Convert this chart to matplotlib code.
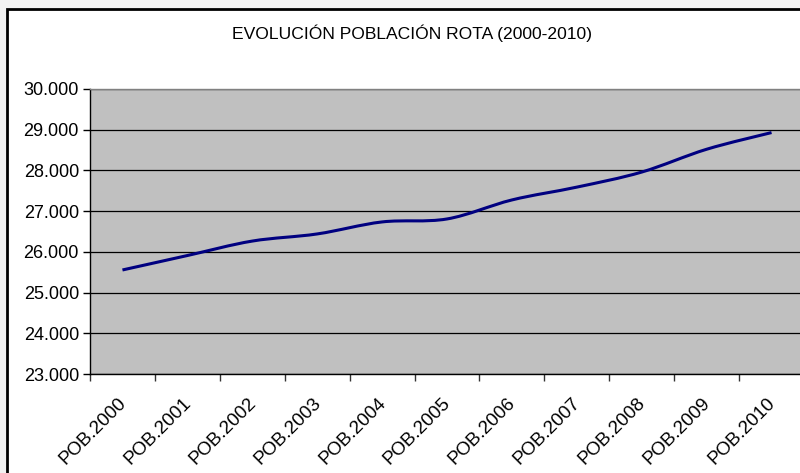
import numpy as np
import matplotlib
matplotlib.use("Agg")
import matplotlib.pyplot as plt
import matplotlib.transforms as mtransforms
from matplotlib.path import Path
from matplotlib.patches import PathPatch, Rectangle
from matplotlib.ticker import FixedLocator, FuncFormatter

# datos
categorias = ["POB.2000", "POB.2001", "POB.2002", "POB.2003", "POB.2004", "POB.2005",
              "POB.2006", "POB.2007", "POB.2008", "POB.2009", "POB.2010"]
poblacion = [25555, 25910, 26265, 26440, 26735, 26808, 27275, 27590, 27960, 28520, 28930]
titulo = "EVOLUCIÓN POBLACIÓN ROTA (2000-2010)"
y_min, y_max, y_paso = 23000, 30000, 1000

plt.rcParams["font.family"] = ["Liberation Sans", "DejaVu Sans"]

fig = plt.figure(figsize=(8, 4.73), dpi=100)
fig.patch.set_facecolor("#F2F2F2")

# marco del gráfico (estilo Excel, recortado a la derecha y abajo)
marco = Rectangle((7 / 800, -0.05), 1.1, 1 - 9 / 473 + 0.05, transform=fig.transFigure,
                  facecolor="white", edgecolor="black", linewidth=2, zorder=-5)
fig.patches.append(marco)

ax = fig.add_axes([90 / 800, 1 - 374 / 473, 714 / 800, (374 - 89) / 473])
ax.set_facecolor("#C0C0C0")

x = np.arange(len(poblacion))
y = np.array(poblacion, dtype=float)

# línea suavizada (Bezier tipo Excel) a partir de los puntos
pts = np.column_stack([x, y])
verts = [tuple(pts[0])]
codes = [Path.MOVETO]
for i in range(len(pts) - 1):
    p0 = pts[i - 1] if i > 0 else pts[i]
    p1 = pts[i]
    p2 = pts[i + 1]
    p3 = pts[i + 2] if i + 2 < len(pts) else pts[i + 1]
    c1 = p1 + (p2 - p0) / 6.0
    c2 = p2 - (p3 - p1) / 6.0
    verts += [tuple(c1), tuple(c2), tuple(p2)]
    codes += [Path.CURVE4] * 3
ax.add_patch(PathPatch(Path(verts, codes), facecolor="none", edgecolor="#000080",
                       linewidth=2.2, zorder=3, capstyle="butt"))

ax.set_xlim(-0.5, len(poblacion) - 0.5)
ax.set_ylim(y_min, y_max)

ax.set_yticks(np.arange(y_min, y_max + 1, y_paso))
ax.yaxis.set_major_formatter(FuncFormatter(lambda v, p: f"{int(v):,}".replace(",", ".")))
ax.grid(axis="y", color="black", linewidth=0.9, zorder=1)
ax.set_axisbelow(True)

ax.xaxis.set_major_locator(FixedLocator(np.arange(-0.5, len(poblacion), 1.0)))
ax.xaxis.set_major_formatter(FuncFormatter(lambda v, p: ""))
ax.xaxis.set_minor_locator(FixedLocator(x))
ax.set_xticklabels(categorias, minor=True, rotation=45, ha="right",
                   rotation_mode="anchor", fontsize=13.5)
ax.tick_params(axis="x", which="minor", length=0, pad=15)
ax.tick_params(axis="x", which="major", length=5, width=1, color="#333333", direction="out")
ax.tick_params(axis="y", length=5, width=1, direction="out", labelsize=13, pad=3)

# desplazar un poco las etiquetas rotadas hacia la izquierda
desp = mtransforms.ScaledTranslation(-5 / 100, 0, fig.dpi_scale_trans)
for lab in ax.get_xticklabels(minor=True):
    lab.set_transform(lab.get_transform() + desp)

for lado in ["top", "right"]:
    ax.spines[lado].set_color("#808080")
    ax.spines[lado].set_linewidth(1)
for lado in ["left", "bottom"]:
    ax.spines[lado].set_color("black")
    ax.spines[lado].set_linewidth(1)

fig.text(412 / 800, 1 - 33 / 473, titulo, ha="center", va="center", fontsize=12.6)

fig.savefig("out.png", dpi=100, facecolor=fig.get_facecolor())
